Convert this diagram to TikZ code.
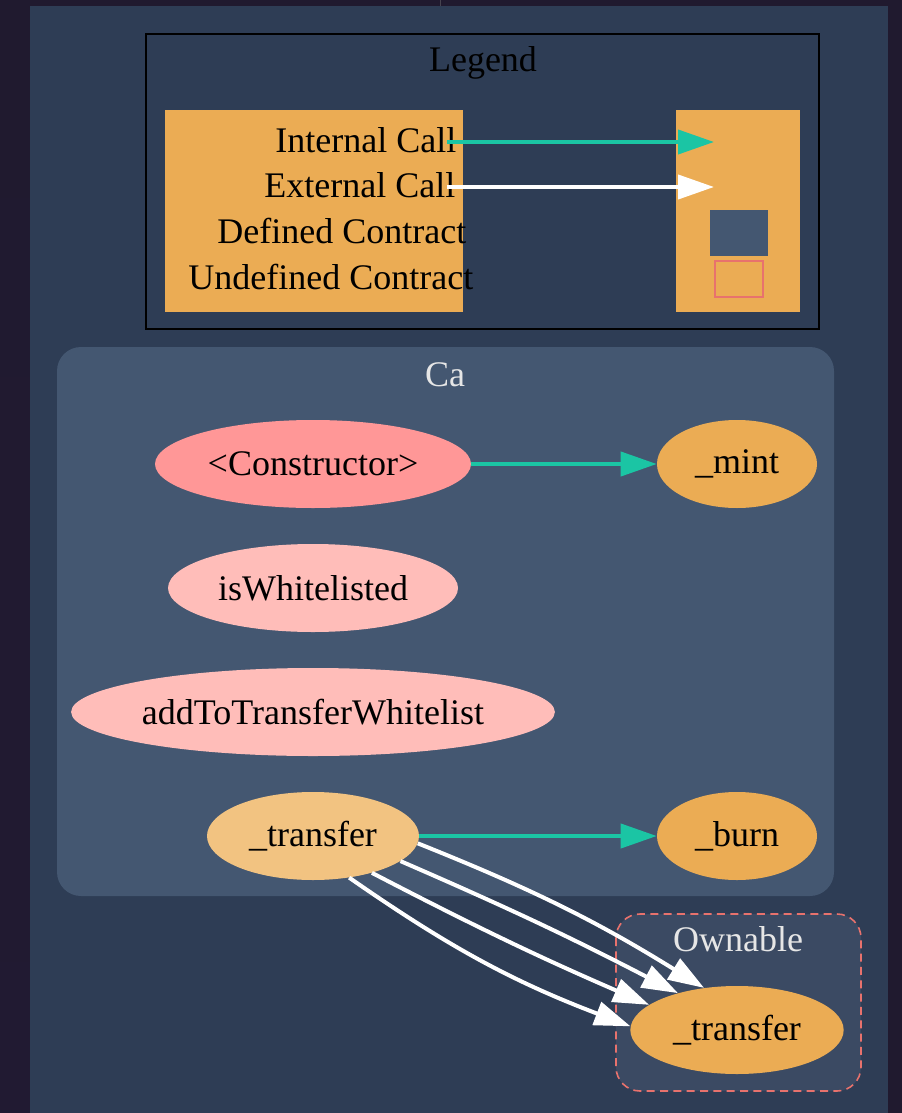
\documentclass[tikz,border=0pt]{standalone}
\usepackage{fontspec}
\setmainfont{Liberation Serif}
\usetikzlibrary{arrows.meta, positioning, shapes.geometric}

\definecolor{bgdark}{HTML}{201A2F}
\definecolor{bgpurple}{HTML}{2F1A4C}
\definecolor{panelbg}{HTML}{2E3D55}
\definecolor{cafill}{HTML}{445771}
\definecolor{ownfill}{HTML}{3B4A63}
\definecolor{tealcall}{HTML}{1BC5A4}
\definecolor{orangefn}{HTML}{EBAC54}
\definecolor{lightorange}{HTML}{F2C381}
\definecolor{ctorpink}{HTML}{FF9797}
\definecolor{pinkfn}{HTML}{FFBDB9}
\definecolor{redline}{HTML}{E8726D}
\definecolor{titlegray}{HTML}{E6E6E6}

\begin{document}
\begin{tikzpicture}[
    x=0.75pt, y=-0.75pt,
    >={Triangle[length=27pt, width=18pt]},
    font=\fontsize{27}{32}\selectfont,
    node distance=93pt,
    on grid,
    fn/.style={ellipse, inner sep=0pt, minimum height=66pt, text=black},
    call/.style={->, line width=3pt},
    intcall/.style={call, draw=tealcall},
    extcall/.style={call, draw=white},
    ctitle/.style={anchor=base, text=titlegray},
]
    \useasboundingbox (0,0) rectangle (902,1113);

    \fill[bgdark] (0,0) rectangle (902,1113);
    \shade[top color=bgdark, middle color=bgpurple, bottom color=bgdark!90!bgpurple]
        (0,6) rectangle (30,1113);
    \fill[panelbg] (30,6) rectangle (888,1113);
    \draw[bgdark!60!gray, line width=0.6pt] (440,0) -- (440,6);

    % legend
    \draw[line width=1.5pt] (146,34) rectangle (819,329);
    \node[anchor=base] (legendTitle) at (483,72) {Legend};
    \fill[orangefn] (165,110) rectangle (463,312);
    \fill[orangefn] (676,110) rectangle (800,312);
    \node[anchor=base east] (intCall)   at (461,152) {Internal Call};
    \node[anchor=base east] (extCall)   at (460,197) {External Call};
    \node[anchor=base east] (defCon)    at (471,243) {Defined Contract};
    \node[anchor=base east] (undefCon)  at (478,289) {Undefined Contract};
    \fill[cafill] (710,210) rectangle (768,256);
    \draw[redline, line width=1.5pt] (715,261) rectangle (763,297);
    \coordinate (intFrom) at (447,142);
    \coordinate (intTo)   at (714,142);
    \coordinate (extFrom) at (447,187);
    \coordinate (extTo)   at (714,187);

    % clusters
    \fill[cafill, rounded corners=18pt] (57,347) rectangle (834,896);
    \node[ctitle] (caTitle) at (445,386) {Ca};
    \draw[redline, fill=ownfill, line width=1.2pt, dash pattern=on 6pt off 4pt,
        rounded corners=18pt] (616,914) rectangle (861,1091);
    \node[ctitle] (ownTitle) at (738,951) {Ownable};

    \node[fn, fill=ctorpink,    minimum width=237pt]                        (ctor)        at (313,464) {<Constructor>};
    \node[fn, fill=orangefn,    minimum width=120pt,   right=318pt of ctor] (mint)        {\_mint};
    \node[fn, fill=pinkfn,      minimum width=217.5pt, below=of ctor]       (isWl)        {isWhitelisted};
    \node[fn, fill=pinkfn,      minimum width=361pt,   below=of isWl]       (addWl)       {addToTransferWhitelist};
    \node[fn, fill=lightorange, minimum width=159pt,   below=of addWl]      (transfer)    {\_transfer};
    \node[fn, fill=orangefn,    minimum width=120pt,   right=318pt of transfer] (burn)    {\_burn};
    \node[fn, fill=orangefn,    minimum width=160pt,   below=145.5pt of burn]   (ownTransfer) {\_transfer};

    \path
        (intFrom)       edge [intcall]                (intTo)
        (extFrom)       edge [extcall]                (extTo)
        (ctor)          edge [intcall]                (mint)
        (transfer)      edge [intcall]                (burn)
        (transfer.-49)  edge [extcall, bend right=7]  (ownTransfer.178)
        (transfer.-32)  edge [extcall, bend right=2]  (ownTransfer.164)
        (transfer.-16)  edge [extcall, bend left=2]   (ownTransfer.148)
        (transfer.-4)   edge [extcall, bend left=5]   (ownTransfer.128)
    ;
\end{tikzpicture}
\end{document}
